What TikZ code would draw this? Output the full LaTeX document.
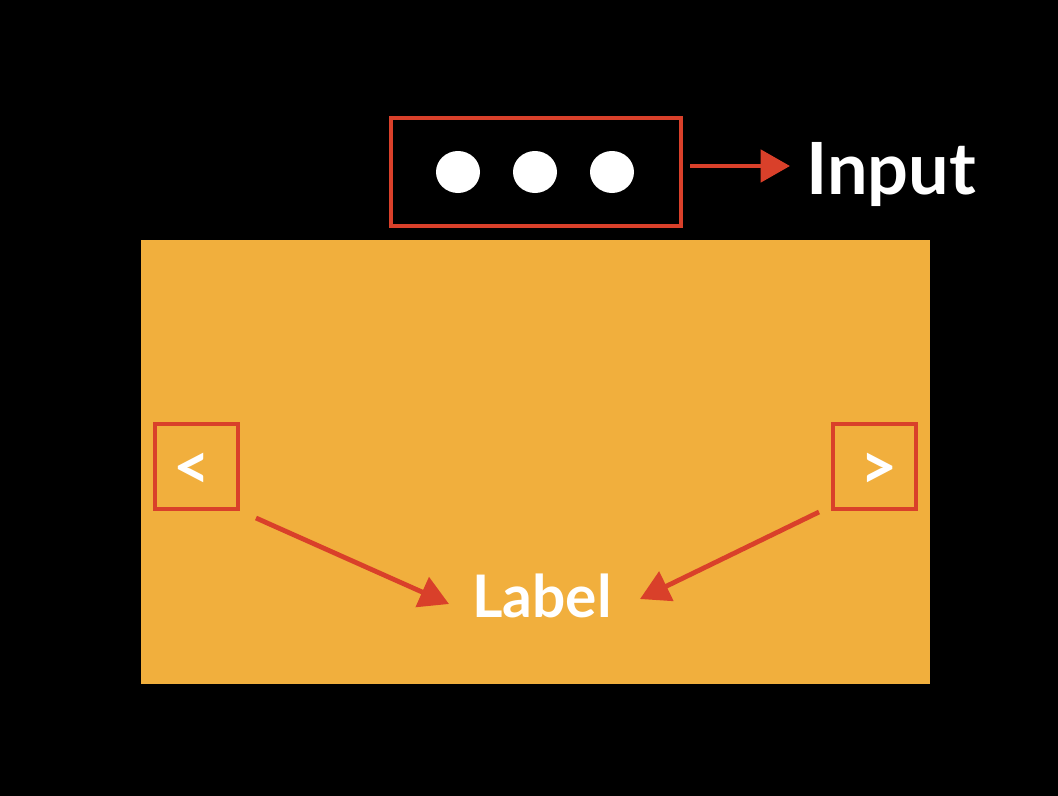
\documentclass[tikz,border=0pt]{standalone}
\usepackage{fontspec}
\setmainfont{Lato}
\usetikzlibrary{arrows.meta,shapes.geometric}
\definecolor{bgorange}{HTML}{F1AF3D}
\definecolor{sketchred}{HTML}{D9402A}
\begin{document}
\begin{tikzpicture}[x=0.75pt,y=-0.75pt,
  redbox/.style={draw=sketchred,line width=3pt,inner sep=0pt},
  redarrow/.style={draw=sketchred,line width=3.6pt,-{Triangle[length=22pt,width=24pt]}},
  dot/.style={ellipse,fill=white,minimum width=33pt,minimum height=31.5pt,inner sep=0pt},
  whitetext/.style={text=white,font=\bfseries,inner sep=0pt}]
\fill[black] (0,0) rectangle (1058,796);
\useasboundingbox (0,0) rectangle (1058,796);
\fill[bgorange] (141,240) rectangle (930,684);
% top box with dots
\node[redbox,minimum width=217.5pt,minimum height=81pt] (inbox) at (536,172) {};
\node[dot] (d1) at (458,172) {};
\node[dot] (d2) at (535,172) {};
\node[dot] (d3) at (612,172) {};
\node[whitetext,font=\bfseries\fontsize{54}{54}\selectfont,anchor=west] (input) at (806,175) {Input};
\coordinate (ia) at (690,166);
\coordinate (ib) at (790,166);
\draw[redarrow] (ia) -- (ib);
% side boxes
\node[redbox,minimum width=62pt,minimum height=64pt] (lbox) at (196.5,466.5) {};
\node[redbox,minimum width=62pt,minimum height=64pt] (rbox) at (874.5,466.5) {};
\node[whitetext,font=\bfseries\fontsize{48}{48}\selectfont] (lt) at (192,471) {<};
\node[whitetext,font=\bfseries\fontsize{48}{48}\selectfont] (gt) at (879,471) {>};
% label
\node[whitetext,font=\bfseries\fontsize{44}{44}\selectfont] (label) at (542,596) {Label};
\coordinate (la) at (256,518);
\coordinate (lb) at (449,604);
\coordinate (ra) at (819,512);
\coordinate (rb) at (640,599);
\draw[redarrow] (la) -- (lb);
\draw[redarrow] (ra) -- (rb);
\end{tikzpicture}
\end{document}
